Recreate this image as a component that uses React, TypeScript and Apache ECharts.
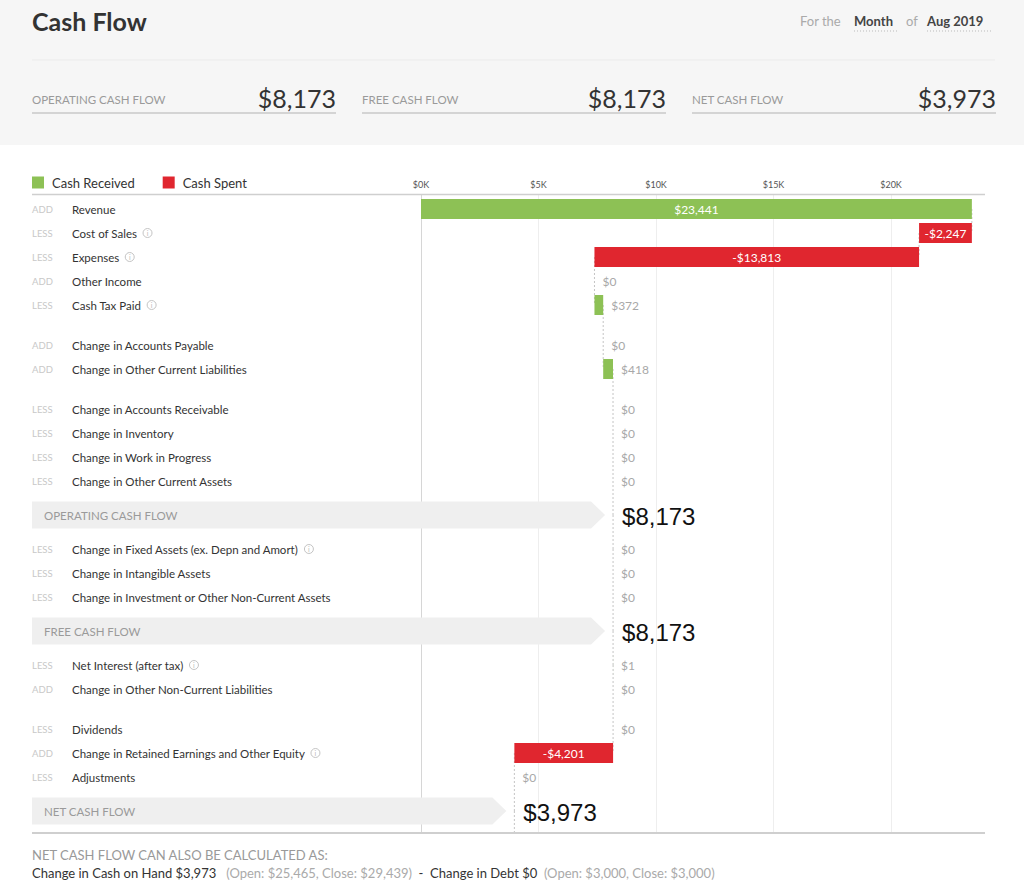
import React, { useEffect, useRef } from 'react';
import * as echarts from 'echarts';

// ---------- data ----------
const rowTags = ['ADD', 'LESS', 'LESS', 'ADD', 'LESS', 'ADD', 'ADD', 'LESS', 'LESS', 'LESS', 'LESS', 'TOTAL', 'LESS', 'LESS', 'LESS', 'TOTAL', 'LESS', 'ADD', 'LESS', 'ADD', 'LESS', 'TOTAL'];
const rowNames = [
  'Revenue', 'Cost of Sales', 'Expenses', 'Other Income', 'Cash Tax Paid',
  'Change in Accounts Payable', 'Change in Other Current Liabilities',
  'Change in Accounts Receivable', 'Change in Inventory', 'Change in Work in Progress', 'Change in Other Current Assets',
  'OPERATING CASH FLOW',
  'Change in Fixed Assets (ex. Depn and Amort)', 'Change in Intangible Assets', 'Change in Investment or Other Non-Current Assets',
  'FREE CASH FLOW',
  'Net Interest (after tax)', 'Change in Other Non-Current Liabilities',
  'Dividends', 'Change in Retained Earnings and Other Equity', 'Adjustments',
  'NET CASH FLOW',
];
const rowValues = [23441, -2247, -13813, 0, 372, 0, 418, 0, 0, 0, 0, 8173, 0, 0, 0, 8173, 1, 0, 0, -4201, 0, 3973];
const rowHasInfo = [false, true, true, false, true, false, false, false, false, false, false, false, true, false, false, false, true, false, false, true, false, false];
const groupBreaks = [5, 7, 18];

const xTicks = [0, 5000, 10000, 15000, 20000];
const xMax = 24000;

const kpiLabels = ['OPERATING CASH FLOW', 'FREE CASH FLOW', 'NET CASH FLOW'];
const kpiValues = [8173, 8173, 3973];

const periodLabels = ['Month', 'Aug 2019'];
const changeInCash = 3973;
const cashOpenClose = [25465, 29439];
const changeInDebt = 0;
const debtOpenClose = [3000, 3000];

// ---------- helpers ----------
const FONT = 'Lato, "Open Sans", sans-serif';
const NUMFONT = '"Liberation Sans", Arial, sans-serif';
const GREEN = '#8dc155';
const RED = '#e0262f';

const fmt = (v: number) => (v < 0 ? '-' : '') + '$' + Math.abs(v).toLocaleString('en-US');

// layout of rows (vertical positions in axis units = px from top of plot)
const ROW = 24;
const GAP = 16;
const TOTAL_STEP = 34;
const FIRST = 15;
const PLOT_H = 639;

const rowY: number[] = [];
{
  let y = FIRST;
  rowTags.forEach((t, i) => {
    if (i > 0) {
      const prev = rowTags[i - 1];
      if (t === 'TOTAL' || prev === 'TOTAL') y += TOTAL_STEP;
      else if (groupBreaks.includes(i)) y += ROW + GAP;
      else y += ROW;
    }
    rowY.push(y);
  });
}

// running totals
const starts: number[] = [];
const ends: number[] = [];
{
  let run = 0;
  rowValues.forEach((v, i) => {
    if (rowTags[i] === 'TOTAL') {
      starts.push(0);
      ends.push(v);
      run = v;
    } else {
      starts.push(run);
      run += v;
      ends.push(run);
    }
  });
}

const greenData: number[][] = [];
const redData: number[][] = [];
rowValues.forEach((v, i) => {
  if (rowTags[i] === 'TOTAL' || v === 0) return;
  const item = [starts[i], ends[i], rowY[i], v];
  if (v > 0) greenData.push(item);
  else redData.push(item);
});

const rowData = rowTags.map((_, i) => [ends[i], rowY[i], i < rowTags.length - 1 ? rowY[i + 1] : PLOT_H, i]);

const barRender = (params: any, api: any) => {
  const s = api.value(0);
  const e = api.value(1);
  const yv = api.value(2);
  const v = api.value(3);
  const pa = api.coord([Math.min(s, e), yv]);
  const pb = api.coord([Math.max(s, e), yv]);
  const h = api.size([0, 20])[1];
  const w = pb[0] - pa[0];
  const inside = w > 44;
  return {
    type: 'group',
    children: [
      { type: 'rect', shape: { x: pa[0], y: pa[1] - h / 2, width: w, height: h }, style: { fill: api.visual('color') } },
      {
        type: 'text',
        x: inside ? pa[0] + w / 2 : pb[0] + 8,
        y: pa[1],
        style: {
          text: fmt(v),
          fill: inside ? '#ffffff' : '#a8a8a8',
          fontSize: 12,
          fontFamily: FONT,
          align: inside ? 'center' : 'left',
          verticalAlign: 'middle',
        },
      },
    ],
  };
};

const rowRender = (params: any, api: any) => {
  const end = api.value(0);
  const yv = api.value(1);
  const yNext = api.value(2);
  const i = api.value(3);
  const tag = rowTags[i];
  const p = api.coord([end, yv]);
  const pn = api.coord([end, yNext]);
  const children: any[] = [];
  children.push({
    type: 'line',
    shape: { x1: p[0], y1: p[1], x2: pn[0], y2: pn[1] },
    style: { stroke: '#c4c4c4', lineWidth: 1, lineDash: [2, 2] },
    z2: 0,
  });
  if (tag === 'TOTAL') {
    const tip = p[0] - 8;
    const hh = 13.5;
    children.push({
      type: 'polygon',
      shape: { points: [[32, p[1] - hh], [tip - 14, p[1] - hh], [tip, p[1]], [tip - 14, p[1] + hh], [32, p[1] + hh]] },
      style: { fill: '#efefef' },
    });
    children.push({
      type: 'text', x: 44, y: p[1],
      style: { text: rowNames[i], fill: '#9a9a9a', fontSize: 11.5, fontFamily: FONT, verticalAlign: 'middle' },
    });
    children.push({
      type: 'text', x: p[0] + 9, y: p[1] + 1,
      style: { text: fmt(rowValues[i]), fill: '#111', fontSize: 24, fontFamily: NUMFONT, verticalAlign: 'middle' },
    });
  } else {
    children.push({
      type: 'text', x: 32, y: p[1],
      style: { text: tag, fill: '#c8c8c8', fontSize: 9.5, fontFamily: FONT, verticalAlign: 'middle' },
    });
    children.push({
      type: 'text', x: 72, y: p[1],
      style: {
        text: rowNames[i] + (rowHasInfo[i] ? '  {i|i}' : ''),
        fill: '#333',
        fontSize: 11.5,
        fontFamily: FONT,
        verticalAlign: 'middle',
        rich: {
          i: {
            fontSize: 7,
            fontFamily: FONT,
            fill: '#bbb',
            color: '#bbb',
            width: 9,
            height: 9,
            lineHeight: 9,
            align: 'center',
            borderColor: '#c4c4c4',
            borderWidth: 1,
            borderRadius: 5,
          },
        },
      },
    });
    if (Math.abs(rowValues[i]) < 1) {
      children.push({
        type: 'text', x: p[0] + 8, y: p[1],
        style: { text: fmt(rowValues[i]), fill: '#a8a8a8', fontSize: 12, fontFamily: FONT, verticalAlign: 'middle' },
      });
    }
  }
  return { type: 'group', children };
};

function buildGraphics() {
  const g: any[] = [];
  g.push({ type: 'rect', shape: { x: 0, y: 0, width: 1024, height: 145 }, style: { fill: '#f6f6f6' }, z: -10, silent: true });
  g.push({ type: 'text', x: 32, y: 21, style: { text: 'Cash Flow', fontSize: 25, fontWeight: 'bold', fill: '#333', fontFamily: FONT, verticalAlign: 'middle' } });
  g.push({ type: 'text', x: 800, y: 21, style: { text: 'For the', fontSize: 13, fill: '#aaa', fontFamily: FONT, verticalAlign: 'middle' } });
  g.push({ type: 'text', x: 854, y: 21, style: { text: periodLabels[0], fontSize: 13, fontWeight: 'bold', fill: '#444', fontFamily: FONT, verticalAlign: 'middle' } });
  g.push({ type: 'line', shape: { x1: 854, y1: 31, x2: 898, y2: 31 }, style: { stroke: '#bbb', lineWidth: 1, lineDash: [1, 2] } });
  g.push({ type: 'text', x: 906, y: 21, style: { text: 'of', fontSize: 13, fill: '#aaa', fontFamily: FONT, verticalAlign: 'middle' } });
  g.push({ type: 'text', x: 927, y: 21, style: { text: periodLabels[1], fontSize: 13, fontWeight: 'bold', fill: '#444', fontFamily: FONT, verticalAlign: 'middle' } });
  g.push({ type: 'line', shape: { x1: 927, y1: 31, x2: 993, y2: 31 }, style: { stroke: '#bbb', lineWidth: 1, lineDash: [1, 2] } });
  g.push({ type: 'line', shape: { x1: 32, y1: 60, x2: 995, y2: 60 }, style: { stroke: '#ebebeb', lineWidth: 1 } });
  kpiLabels.forEach((lab, k) => {
    const x0 = 32 + k * 330;
    g.push({ type: 'text', x: x0, y: 99, style: { text: lab, fontSize: 11.5, fill: '#9a9a9a', fontFamily: FONT, verticalAlign: 'middle' } });
    g.push({ type: 'text', x: x0 + 304, y: 98, style: { text: fmt(kpiValues[k]), fontSize: 25, fill: '#333', fontFamily: FONT, align: 'right', verticalAlign: 'middle' } });
    g.push({ type: 'line', shape: { x1: x0, y1: 113, x2: x0 + 304, y2: 113 }, style: { stroke: '#c8c8c8', lineWidth: 1.5 } });
  });
  g.push({ type: 'line', shape: { x1: 32, y1: 194.5, x2: 985, y2: 194.5 }, style: { stroke: '#cfcfcf', lineWidth: 1.5 }, z: 10 });
  g.push({ type: 'line', shape: { x1: 32, y1: 833, x2: 985, y2: 833 }, style: { stroke: '#cfcfcf', lineWidth: 2 }, z: 10 });
  g.push({ type: 'text', x: 32, y: 855, style: { text: 'NET CASH FLOW CAN ALSO BE CALCULATED AS:', fontSize: 13, fill: '#999', fontFamily: FONT, verticalAlign: 'middle' } });
  g.push({
    type: 'text', x: 32, y: 873,
    style: {
      text:
        '{d|Change in Cash on Hand ' + fmt(changeInCash) + '}' +
        '{g|   (Open: ' + fmt(cashOpenClose[0]) + ', Close: ' + fmt(cashOpenClose[1]) + ')}' +
        '{d|  -  Change in Debt ' + fmt(changeInDebt) + '}' +
        '{g|  (Open: ' + fmt(debtOpenClose[0]) + ', Close: ' + fmt(debtOpenClose[1]) + ')}',
      fontSize: 13,
      fontFamily: FONT,
      verticalAlign: 'middle',
      rich: {
        d: { fontSize: 13, fontFamily: FONT, fill: '#333', color: '#333' },
        g: { fontSize: 13, fontFamily: FONT, fill: '#aaa', color: '#aaa' },
      },
    },
  });
  return g;
}

export default function App() {
  const ref = useRef<HTMLDivElement>(null);
  useEffect(() => {
    if (!ref.current) return;
    const chart = echarts.init(ref.current, null, { renderer: 'svg' });
    chart.setOption({
      animation: false,
      backgroundColor: '#ffffff',
      textStyle: { fontFamily: FONT },
      legend: {
        left: 32,
        top: 176,
        padding: 0,
        itemWidth: 12,
        itemHeight: 12,
        itemGap: 28,
        icon: 'rect',
        selectedMode: false,
        data: ['Cash Received', 'Cash Spent'],
        textStyle: { fontSize: 13, color: '#333', fontFamily: FONT, padding: [0, 0, 0, 3] },
      },
      grid: { left: 421, top: 194, width: 564, height: PLOT_H, containLabel: false },
      xAxis: {
        type: 'value',
        position: 'top',
        min: xTicks[0],
        max: xMax,
        interval: xTicks[1] - xTicks[0],
        axisLine: { show: false },
        axisTick: { show: false },
        axisLabel: {
          formatter: (v: number) => '$' + v / 1000 + 'K',
          fontSize: 9,
          color: '#555',
          margin: 5,
          fontFamily: FONT,
          showMaxLabel: false,
        },
        splitLine: {
          show: true,
          showMaxLine: false,
          lineStyle: { color: ['#d6d6d6', '#eeeeee', '#eeeeee', '#eeeeee', '#eeeeee'], width: 1 },
        },
      },
      yAxis: { type: 'value', min: 0, max: PLOT_H, inverse: true, show: false },
      series: [
        {
          type: 'custom',
          name: 'rows',
          renderItem: rowRender,
          data: rowData,
          encode: { x: 0, y: 1 },
          z: 1,
          clip: false,
          silent: true,
        },
        {
          type: 'custom',
          name: 'Cash Received',
          color: GREEN,
          itemStyle: { color: GREEN },
          renderItem: barRender,
          data: greenData,
          encode: { x: [0, 1], y: 2 },
          z: 3,
          clip: false,
        },
        {
          type: 'custom',
          name: 'Cash Spent',
          color: RED,
          itemStyle: { color: RED },
          renderItem: barRender,
          data: redData,
          encode: { x: [0, 1], y: 2 },
          z: 3,
          clip: false,
        },
      ],
      graphic: buildGraphics(),
    });
    return () => chart.dispose();
  }, []);
  return (
    <div style={{ position: 'fixed', left: 0, top: 0, width: 1024, height: 896, background: '#fff' }}>
      <div ref={ref} style={{ width: 1024, height: 896 }} />
    </div>
  );
}
